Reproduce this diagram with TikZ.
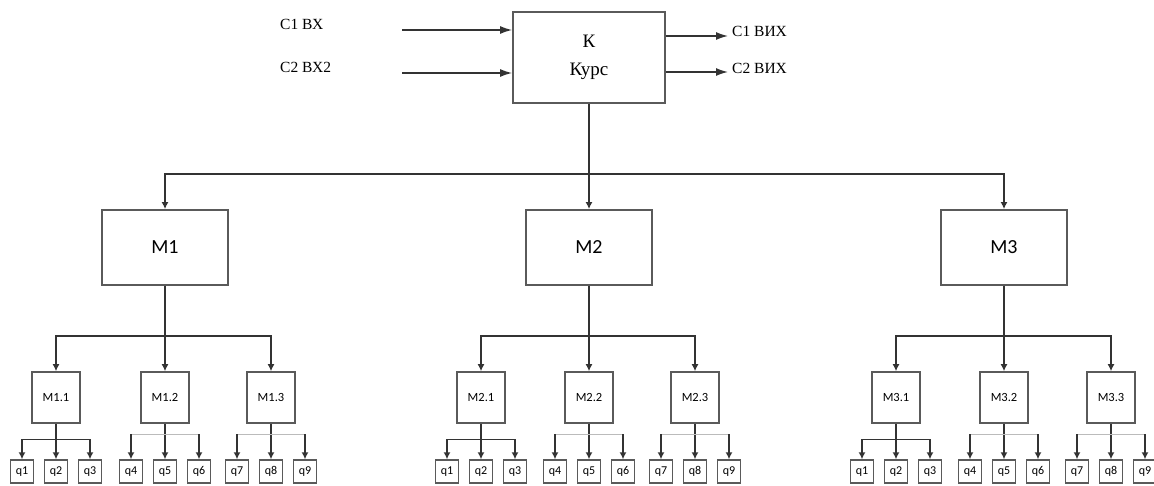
\documentclass[tikz,border=0pt]{standalone}
\usepackage{fontspec}
\setmainfont{Liberation Serif}
\newfontfamily\calib{Carlito}
\usetikzlibrary{arrows.meta,calc}
\definecolor{ln}{HTML}{333333}
\definecolor{bx}{HTML}{5A5A5A}
\definecolor{gbus}{HTML}{BBBBBB}
\tikzset{
  conn/.style={draw=ln,line width=1.4pt},
  bigarr/.style={conn,-{Latex[length=12pt,width=8pt]}},
  sarr/.style={conn,-{Latex[length=7pt,width=7pt]}},
  kbox/.style={draw=bx,line width=1.8pt,minimum width=152pt,minimum height=91pt,inner sep=0pt,align=center,font=\fontsize{19}{28}\selectfont},
  mbox/.style={draw=bx,line width=1.8pt,minimum width=126pt,minimum height=75pt,inner sep=0pt,font=\calib\fontsize{20}{24}\selectfont},
  subbox/.style={draw=bx,line width=1.6pt,minimum width=48pt,minimum height=51pt,inner sep=0pt,font=\calib\fontsize{12.5}{14}\selectfont},
  qbox/.style={draw=bx,line width=1.4pt,minimum width=23pt,minimum height=23pt,inner sep=0pt,font=\calib\fontsize{12}{13}\selectfont},
  lab/.style={inner sep=0pt,anchor=west,font=\fontsize{15.5}{18}\selectfont},
}
\newcommand{\mkgroup}[6]{%
  \node[qbox] (#1a) at (#2-34,471.5) {#3};
  \node[qbox] (#1b) at (#2,471.5) {#4};
  \node[qbox] (#1c) at (#2+34,471.5) {#5};
  \draw[sarr] (#1.south) -- (#1b.north);
  \draw[conn,draw=#6] ([yshift=\busoff]#1a.north) -- ([yshift=\busoff]#1c.north);
  \draw[sarr] ([yshift=\busoff]#1a.north) -- (#1a.north);
  \draw[sarr] ([yshift=\busoff]#1c.north) -- (#1c.north);
}
\begin{document}
\begin{tikzpicture}[x=1pt,y=-1pt]
\useasboundingbox (0,0) rectangle (1154,486);
% top
\node[kbox] (K) at (589,57.5) {К\\Курс};
\coordinate (in1) at (402,30);
\coordinate (in2) at (402,73);
\coordinate (out1) at (728,36);
\coordinate (out2) at (728,72);
\draw[bigarr] (in1) -- (in1 -| K.west);
\draw[bigarr] (in2) -- (in2 -| K.west);
\draw[bigarr] (out1 -| K.east) -- (out1);
\draw[bigarr] (out2 -| K.east) -- (out2);
\node[lab] (l1) at (280,24) {C1 ВХ};
\node[lab] (l2) at (280,67) {C2 ВХ2};
\node[lab] (l3) at (732,31) {C1 ВИХ};
\node[lab] (l4) at (732,68) {C2 ВИХ};
% M level
\node[mbox] (M1) at (165,247.5) {M1};
\node[mbox] (M2) at (589,247.5) {M2};
\node[mbox] (M3) at (1004,247.5) {M3};
\draw[sarr] (K.south) -- (M2.north);
\draw[sarr] (K.south) -- ++(0,70) -| (M1.north);
\draw[sarr] (K.south) -- ++(0,70) -| (M3.north);
% sub level
\node[subbox] (M11) at (56,397.5) {M1.1};
\node[subbox] (M12) at (165,397.5) {M1.2};
\node[subbox] (M13) at (271,397.5) {M1.3};
\node[subbox] (M21) at (481,397.5) {M2.1};
\node[subbox] (M22) at (589,397.5) {M2.2};
\node[subbox] (M23) at (695,397.5) {M2.3};
\node[subbox] (M31) at (896,397.5) {M3.1};
\node[subbox] (M32) at (1004,397.5) {M3.2};
\node[subbox] (M33) at (1111,397.5) {M3.3};
\foreach \p/\a/\b/\c in {M1/M11/M12/M13,M2/M21/M22/M23,M3/M31/M32/M33}{
  \draw[sarr] (\p.south) -- (\b.north);
  \draw[sarr] (\p.south) -- ++(0,50) -| (\a.north);
  \draw[sarr] (\p.south) -- ++(0,50) -| (\c.north);
}
% q level
\def\busoff{20pt}
\mkgroup{M11}{56}{q1}{q2}{q3}{ln}
\mkgroup{M21}{481}{q1}{q2}{q3}{ln}
\mkgroup{M31}{896}{q1}{q2}{q3}{ln}
\def\busoff{25pt}
\mkgroup{M12}{165}{q4}{q5}{q6}{gbus}
\mkgroup{M13}{271}{q7}{q8}{q9}{gbus}
\mkgroup{M22}{589}{q4}{q5}{q6}{gbus}
\mkgroup{M23}{695}{q7}{q8}{q9}{gbus}
\mkgroup{M32}{1004}{q4}{q5}{q6}{gbus}
\mkgroup{M33}{1111}{q7}{q8}{q9}{gbus}
\end{tikzpicture}
\end{document}
